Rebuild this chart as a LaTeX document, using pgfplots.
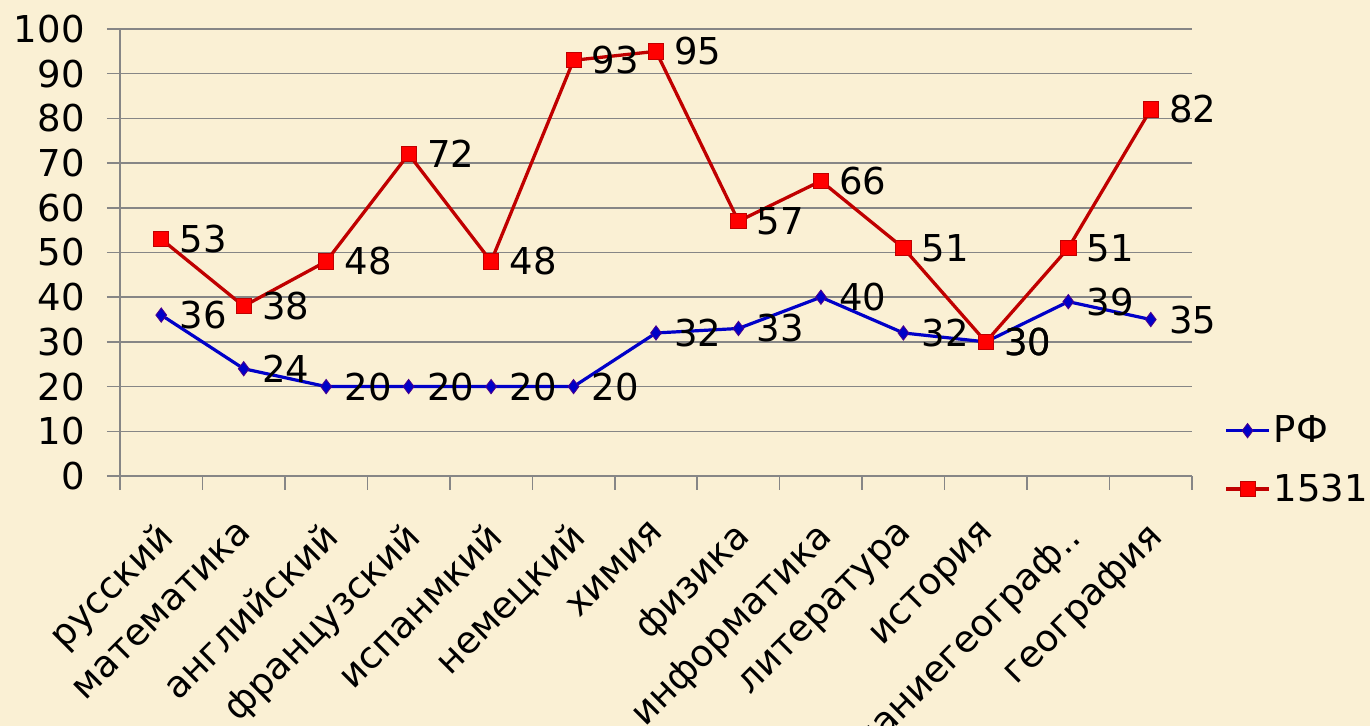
\documentclass[border=0pt]{standalone}
\usepackage{pgfplots}
\pgfplotsset{compat=1.18}
\usepackage{fontspec}
\setmainfont{DejaVu Sans}
\definecolor{bg}{RGB}{250,240,212}
\definecolor{gridc}{RGB}{134,134,134}
\definecolor{rfblue}{RGB}{0,0,200}
\definecolor{redline}{RGB}{192,0,0}
\definecolor{redmark}{RGB}{255,0,0}
\newcommand{\lblfont}{\fontsize{18.5}{22}\selectfont}
\begin{document}
\begin{tikzpicture}
\fill[bg] (-60pt,-125pt) rectangle (625pt,238pt);
\begin{axis}[
  at={(0pt,0pt)}, anchor=south west,
  scale only axis, width=536pt, height=223.5pt,
  xmin=-0.5, xmax=12.5, ymin=0, ymax=100,
  ytick={0,10,...,100},
  xtick={0,...,12},
  xticklabels={русский, математика, английский, французский, испанмкий, немецкий, химия, физика, информатика, литература, история, обществознаниегеограф.., география},
  major x tick style={draw=none},
  minor xtick={-0.5,0.5,...,12.5},
  axis x line*=bottom, axis y line*=left,
  axis line style={gridc, line width=0.75pt, -},
  tick style={gridc, line width=0.75pt},
  tick align=outside,
  major tick length=6.5pt, minor tick length=7pt,
  ymajorgrids, grid style={gridc, line width=0.75pt},
  tick label style={font=\lblfont, text=black},
  /pgf/number format/assume math mode=true,
  xticklabel style={xshift=-3pt, yshift=-15pt, rotate=45, anchor=north east, inner sep=0pt},
  yticklabel style={inner sep=0pt, xshift=-11pt},
  nodes near coords,
  every node near coord/.append style={anchor=west, xshift=9pt, font=\lblfont, text=black, inner sep=0pt},
  legend style={at={(axis description cs:1,0.036)}, anchor=west, xshift=16pt, draw=none, fill=none, inner sep=0pt, font=\lblfont, row sep=11pt, nodes={inner sep=1.5pt}},
  legend cell align=left,
  legend image code/.code={\draw[mark repeat=2,mark phase=2,#1] plot coordinates {(0pt,0pt) (10.75pt,0pt) (21.5pt,0pt)};},
]
\addplot[rfblue, line width=1.6pt, mark=diamond*, mark size=3.6pt, mark options={fill=rfblue, draw=rfblue!70!red, line width=0.4pt}]
  coordinates {(0,36) (1,24) (2,20) (3,20) (4,20) (5,20) (6,32) (7,33) (8,40) (9,32) (10,30) (11,39) (12,35)};
\addlegendentry{РФ}
\addplot[redline, line width=1.65pt, mark=square*, mark size=3.8pt, mark options={fill=redmark, draw=redline, line width=0.4pt}]
  coordinates {(0,53) (1,38) (2,48) (3,72) (4,48) (5,93) (6,95) (7,57) (8,66) (9,51) (10,30) (11,51) (12,82)};
\addlegendentry{1531}
\end{axis}
\pgfresetboundingbox
\path[use as bounding box] (-60pt,-125pt) rectangle (625pt,238pt);
\end{tikzpicture}
\end{document}
